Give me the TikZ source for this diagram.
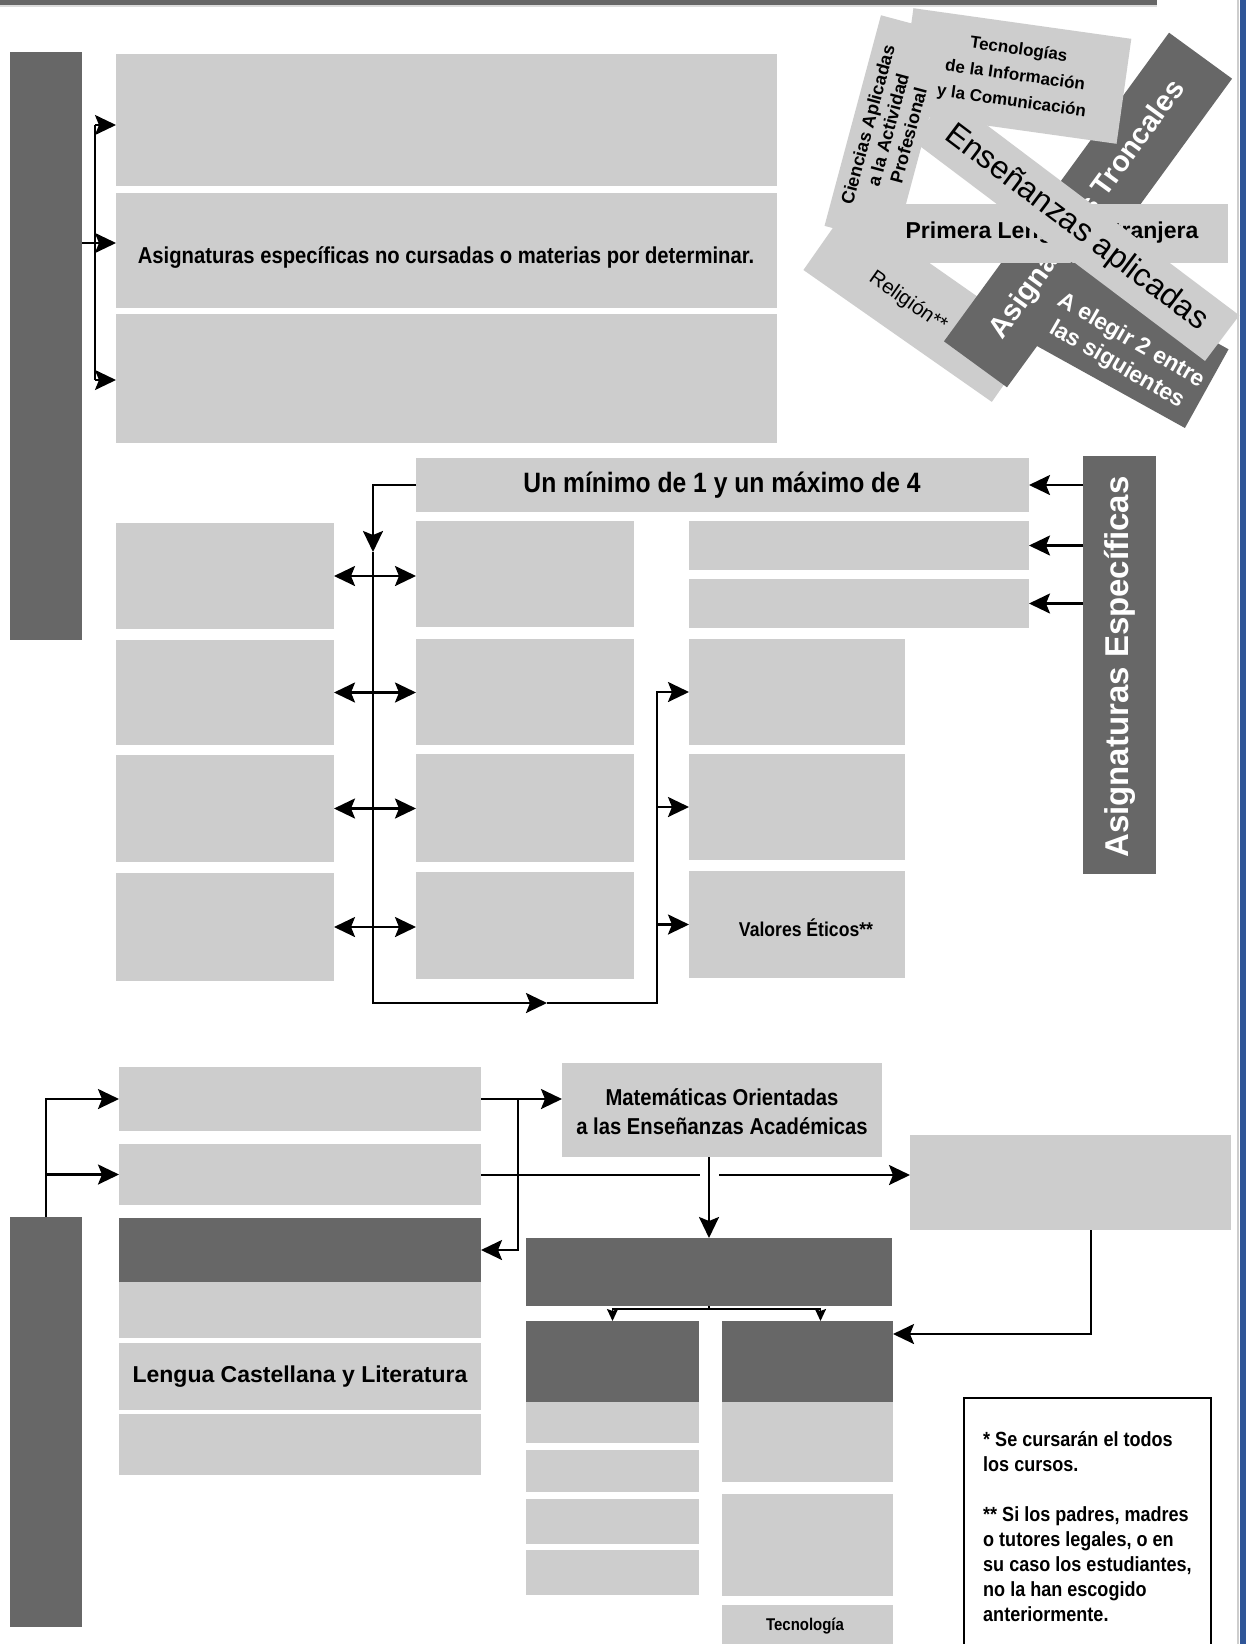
\documentclass[tikz,border=0pt]{standalone}
\usepackage{fontspec}
\setmainfont{Liberation Sans}
\newfontfamily\nar[FakeStretch=0.88]{Liberation Sans}
\usetikzlibrary{arrows.meta}
\definecolor{dg}{HTML}{676767}
\definecolor{lg}{HTML}{CDCDCD}
\definecolor{bl}{RGB}{47,85,151}
\newcommand\mkbox[7]{\node[#1, minimum width={#4-#2}, minimum height={#5-#3}] (#6) at ({(#2+#4)/2},{(#3+#5)/2}) {#7};}
\begin{document}
\begin{tikzpicture}[x=1pt,y=-1pt,
 lb/.style={fill=lg,draw=none,inner sep=0pt,outer sep=0pt},
 db/.style={fill=dg,draw=none,inner sep=0pt,outer sep=0pt},
 ln/.style={line width=2.4pt},
 tip/.tip={Stealth[length=21pt,width=20pt,inset=4pt]},
 arr/.style={line width=2.4pt,-tip},
 arr2/.style={line width=2.4pt,tip-tip},
 sarr/.style={line width=1.8pt,-{Stealth[length=12pt,width=11pt,inset=2pt]}},
]
\fill[white] (0,0) rectangle (1246,1644);
\useasboundingbox (0,0) rectangle (1246,1644);
% frame bars
\fill[dg] (0,0) rectangle (1157,5);
\fill[lg!70!white] (0,5) rectangle (1157,7);
\fill[lg] (1237,0) rectangle (1239,1644);
\fill[bl] (1240,0) rectangle (1246,1644);

% ---------- section 1
\mkbox{db}{10}{52}{82}{640}{bar1}{}
\mkbox{lb}{116}{54}{777}{186}{a1}{}
\mkbox{lb}{116}{193}{777}{308}{a2}{}
\mkbox{lb}{116}{314}{777}{443}{a3}{}
\node[font=\nar\bfseries\fontsize{23}{28}\selectfont] (a2t) at (446,257) {Asignaturas específicas no cursadas o materias por determinar.};
\coordinate (j0) at (95,125);
\coordinate (j1) at (95,243);
\coordinate (j2) at (95,380);
\draw[line width=2pt] (j0) -- (j2);
\draw[arr,line width=2pt] (j0) -- (a1.west |- j0);
\draw[arr,line width=2pt] (j2) -- (a3.west |- j2);
\draw[arr,line width=2pt] (bar1.east |- j1) -- (a2.west |- j1);

% ---------- cluster
\node[lb, rotate=-35, minimum width=230, minimum height=78] (rel) at (920,304) {};
\node[rotate=-35, font=\fontsize{20.5}{24}\selectfont] (relt) at (908,302) {Religión**};
\node[db, rotate=53.9, minimum width=382, minimum height=78, text=white, font=\bfseries\fontsize{29}{33}\selectfont] (tro) at (1088,210) {Asignaturas Troncales};
\node[lb, rotate=-8, minimum width=220, minimum height=106, align=center, font=\bfseries\fontsize{17}{26}\selectfont] (tic) at (1015,76) {Tecnologías\\de la Información\\y la Comunicación};
\node[lb, rotate=75, minimum width=218, minimum height=73, align=center, font=\bfseries\fontsize{18}{21}\selectfont] (cie) at (888,130) {Ciencias Aplicadas\\a la Actividad\\Profesional};
\mkbox{lb}{833}{204}{1228}{263}{pri}{}
\node[font=\bfseries\fontsize{23}{28}\selectfont] (prit) at (1052,233) {Primera Lengua Extranjera};
\node[db, rotate=-29, minimum width=180, minimum height=90] (ele) at (1128,345) {};
\node[rotate=-30, align=center, text=white, font=\bfseries\fontsize{23}{28}\selectfont] (elet) at (1124,353) {A elegir 2 entre\\las siguientes};
\node[lb, rotate=-37, minimum width=366, minimum height=57, font=\fontsize{32}{36}\selectfont] (ens) at (1076,228) {Enseñanzas aplicadas};

% ---------- section 2
\mkbox{lb}{416}{458}{1029}{512}{um}{}
\node[font=\nar\bfseries\fontsize{28}{34}\selectfont] (umt) at (722,485) {Un mínimo de 1 y un máximo de 4};
\mkbox{db}{1083}{456}{1156}{874}{ae}{}
\node[rotate=90, text=white, font=\bfseries\fontsize{33}{38}\selectfont] (aet) at (1120,667) {Asignaturas Específicas};
\mkbox{lb}{689}{521}{1029}{570}{r1}{}
\mkbox{lb}{689}{579}{1029}{628}{r2}{}
\mkbox{lb}{416}{521}{634}{627}{m1}{}
\mkbox{lb}{416}{639}{634}{745}{m2}{}
\mkbox{lb}{416}{754}{634}{862}{m3}{}
\mkbox{lb}{416}{872}{634}{979}{m4}{}
\mkbox{lb}{116}{523}{334}{629}{l1}{}
\mkbox{lb}{116}{640}{334}{745}{l2}{}
\mkbox{lb}{116}{755}{334}{862}{l3}{}
\mkbox{lb}{116}{873}{334}{981}{l4}{}
\mkbox{lb}{689}{639}{905}{745}{v1}{}
\mkbox{lb}{689}{754}{905}{860}{v2}{}
\mkbox{lb}{689}{871}{905}{978}{v3}{}
\node[font=\nar\bfseries\fontsize{20}{24}\selectfont] (v3t) at (806,928) {Valores Éticos**};

\draw[arr] (ae.west |- um.east) -- (um.east);
\draw[arr] (ae.west |- r1.east) -- (r1.east);
\draw[arr] (ae.west |- r2.east) -- (r2.east);
\coordinate (cdn) at (373,552);
\coordinate (cmid) at (547,1003);
\coordinate (cbr) at (657,1003);
\draw[arr] (um.west) -| (cdn);
\draw[arr] (cdn) |- (cmid);
\draw[arr] (cmid) -| (v1.west -| cbr) -- (v1.west);
\draw[arr] (v2.west -| cbr) -- (v2.west);
\draw[arr] (v3.west -| cbr) -- (v3.west);
\draw[arr2] (l1.east) -- (m1.west |- l1.east);
\draw[arr2] (l2.east) -- (m2.west |- l2.east);
\draw[arr2] (l3.east) -- (m3.west |- l3.east);
\draw[arr2] (l4.east) -- (m4.west |- l4.east);

% ---------- section 3
\mkbox{db}{10}{1217}{82}{1627}{bar3}{}
\mkbox{lb}{119}{1067}{481}{1131}{t1}{}
\mkbox{lb}{119}{1144}{481}{1205}{t2}{}
\mkbox{db}{119}{1218}{481}{1282}{t3}{}
\mkbox{lb}{119}{1282}{481}{1338}{t4}{}
\mkbox{lb}{119}{1343}{481}{1410}{t5}{}
\mkbox{lb}{119}{1414}{481}{1475}{t6}{}
\node[font=\bfseries\fontsize{23}{28}\selectfont] (t5t) at (300,1377) {Lengua Castellana y Literatura};
\mkbox{lb}{562}{1063}{882}{1157}{mat}{}
\node[align=center, font=\nar\bfseries\fontsize{23}{29}\selectfont] (matt) at (722,1112) {Matemáticas Orientadas\\a las Enseñanzas Académicas};
\mkbox{lb}{910}{1135}{1231}{1230}{rr}{}
\mkbox{db}{526}{1238}{892}{1306}{dd}{}
\mkbox{db}{526}{1321}{699}{1402}{e1}{}
\mkbox{lb}{526}{1402}{699}{1443}{e2}{}
\mkbox{lb}{526}{1450}{699}{1492}{e3}{}
\mkbox{lb}{526}{1499}{699}{1544}{e4}{}
\mkbox{lb}{526}{1550}{699}{1595}{e5}{}
\mkbox{db}{722}{1321}{893}{1402}{f1}{}
\mkbox{lb}{722}{1402}{893}{1482}{f2}{}
\mkbox{lb}{722}{1494}{893}{1596}{f3}{}
\mkbox{lb}{722}{1605}{893}{1660}{f4}{}
\node[font=\nar\bfseries\fontsize{17}{21}\selectfont] (f4t) at (805,1626) {Tecnología};

\draw[arr] (bar3.north) |- (t1.west);
\draw[arr] (bar3.north |- t2.west) -- (t2.west);
\draw[arr] (t1.east) -- (mat.west |- t1.east);
\coordinate (k1) at (518,1250);
\draw[arr] (k1 |- t1.east) -- (k1) -- (t3.east |- k1);
\coordinate (g1) at (700,1175);
\coordinate (g2) at (719,1175);
\draw[ln] (t2.east |- g1) -- (g1);
\draw[arr] (g2) -- (rr.west |- g2);
\draw[arr] (dd.north |- mat.south) -- (dd.north);
\coordinate (mm) at (709,1309);
\draw[line width=1.8pt] (dd.south) -- (mm);
\draw[sarr] (mm) -| (e1.north);
\draw[sarr] (mm) -| ([xshift=13pt]f1.north);
\coordinate (rc) at (1091,1334);
\draw[arr] (rr.south -| rc) |- (f1.east |- rc);

% footnote
\draw[line width=1.5pt] (964,1660) |- (1211,1398) -- (1211,1660);
\node[anchor=north west, align=left, inner sep=0pt, font=\nar\bfseries\fontsize{20.5}{25}\selectfont] (fn) at (983,1431) {* Se cursarán el todos\\los cursos.\\[25pt]** Si los padres, madres\\o tutores legales, o en\\su caso los estudiantes,\\no la han escogido\\anteriormente.};
\end{tikzpicture}
\end{document}
